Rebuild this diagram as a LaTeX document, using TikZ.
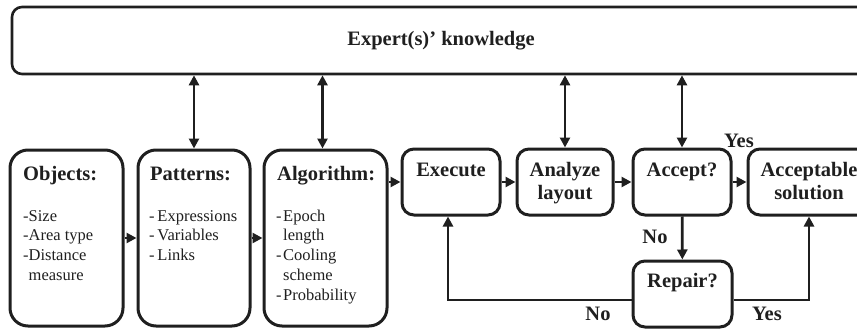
\documentclass[tikz,border=0pt]{standalone}
\usepackage{fontspec}
\setmainfont{Liberation Serif}
\usetikzlibrary{arrows.meta}
\definecolor{ink}{gray}{0.12}
\tikzset{
  box/.style={draw=ink, line width=3pt, rounded corners=12pt, inner sep=0pt},
  tallbox/.style={box, rounded corners=18pt, minimum height=176pt},
  smallbox/.style={box, minimum height=66pt},
  topbox/.style={draw=ink, line width=2.6pt, rounded corners=10pt, inner sep=0pt, font=\fontsize{20.5}{24}\selectfont\bfseries, text=ink},
  ttl/.style={inner sep=0pt, anchor=base west, font=\fontsize{20.5}{24}\selectfont\bfseries, text=ink},
  ctr/.style={inner sep=0pt, anchor=base, align=center, font=\fontsize{20.5}{23}\selectfont\bfseries, text=ink},
  item/.style={inner sep=0pt, anchor=base west, align=left, font=\fontsize{16.5}{19.8}\selectfont, text=ink},
  arr/.style={draw=ink, line width=2.8pt, -{Triangle[length=10pt,width=10pt]}},
  darr/.style={draw=ink, line width=2.8pt, {Triangle[length=10pt,width=10pt]}-{Triangle[length=10pt,width=10pt]}},
}
\begin{document}
\begin{tikzpicture}[x=1pt,y=-1pt]
\useasboundingbox (0,0) rectangle (857,329);
% top box
\node[topbox, minimum width=858pt, minimum height=67pt] (top) at (441,40.5) {Expert(s)' knowledge};
% tall boxes
\node[tallbox, minimum width=113pt] (obj) at (66.5,238) {};
\node[tallbox, minimum width=112pt] (pat) at (194,238) {};
\node[tallbox, minimum width=123pt] (alg) at (325.5,238) {};
% small boxes
\node[smallbox, minimum width=98pt] (exec) at (451,182) {};
\node[smallbox, minimum width=96pt] (ana) at (565,182) {};
\node[smallbox, minimum width=98pt] (acc) at (682,182) {};
\node[smallbox, minimum width=122pt] (sol) at (809,182) {};
\node[smallbox, minimum width=99pt] (rep) at (682.5,294) {};
% texts (base anchor of a multi-line node = last line)
\node[ttl] (objT) at (23,180) {Objects:};
\node[item] (objI) at (23,280.4) {-Size\\-Area type\\-Distance\\\phantom{-}measure};
\node[ttl] (patT) at (150,180) {Patterns:};
\node[item] (patI) at (149,260.6) {-\,Expressions\\-\,Variables\\-\,Links};
\node[ttl] (algT) at (277,180) {Algorithm:};
\node[item] (algI) at (276,300.2) {-\kern1.5pt Epoch\\\phantom{-}\kern1.5pt length\\-\kern1.5pt Cooling\\\phantom{-}\kern1.5pt scheme\\-\kern1.5pt Probability};
\node[ctr] (execT) at (451,176) {Execute};
\node[ctr] (anaT) at (565,199) {Analyze\\layout};
\node[ctr] (accT) at (682,176) {Accept?};
\node[ctr] (solT) at (809,199) {Acceptable\\solution};
\node[ctr] (repT) at (682.5,287) {Repair?};
% labels
\node[ctr] (yes1) at (739,147) {Yes};
\node[ctr] (no1) at (655,243) {No};
\node[ctr] (no2) at (598,320) {No};
\node[ctr] (yes2) at (767,320) {Yes};
% connectors
\draw[arr] (obj) -- (pat);
\draw[arr] (pat) -- (alg);
\draw[arr] (alg.east |- exec.west) -- (exec.west);
\draw[arr] (exec) -- (ana);
\draw[arr] (ana) -- (acc);
\draw[arr] (acc) -- (sol);
\draw[arr] (acc) -- (rep);
\coordinate (execIn) at ([xshift=-3pt]exec.south);
\coordinate (repL) at ([yshift=-6pt]rep.west);
\coordinate (repR) at ([yshift=-6pt]rep.east);
\draw[arr] (repL) -| (execIn);
\draw[arr] (repR) -| (sol.south);
\coordinate (algTop) at ([xshift=-3pt]alg.north);
\draw[darr] (top.south -| pat.north) -- (pat.north);
\draw[darr] (top.south -| algTop) -- (algTop);
\draw[darr] (top.south -| ana.north) -- (ana.north);
\draw[darr] (top.south -| acc.north) -- (acc.north);
\end{tikzpicture}
\end{document}
